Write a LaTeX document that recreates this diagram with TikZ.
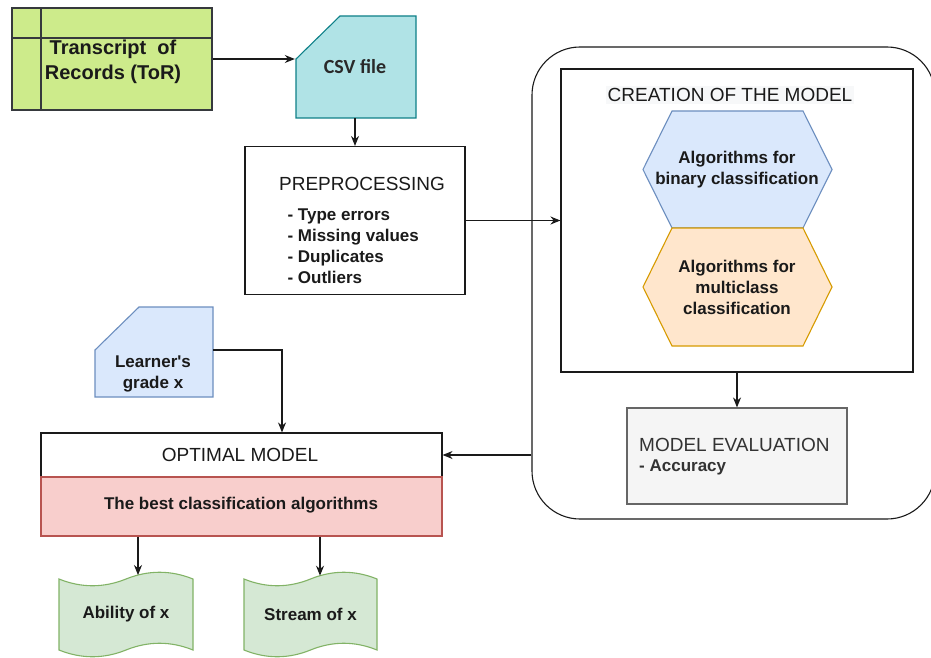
\documentclass[tikz,border=0pt]{standalone}
\usepackage{fontspec}
\setmainfont{Liberation Sans}
\newfontfamily\csvfont{Carlito}
\usetikzlibrary{arrows.meta,calc}
\definecolor{torfill}{HTML}{CDEB8B}
\definecolor{torline}{HTML}{36393D}
\definecolor{csvfill}{HTML}{B0E3E6}
\definecolor{csvline}{HTML}{0E8088}
\definecolor{bluefill}{HTML}{DAE8FC}
\definecolor{blueline}{HTML}{6C8EBF}
\definecolor{orangefill}{HTML}{FFE6CC}
\definecolor{orangeline}{HTML}{D79B00}
\definecolor{grayfill}{HTML}{F5F5F5}
\definecolor{grayline}{HTML}{666666}
\definecolor{graytext}{HTML}{333333}
\definecolor{redfill}{HTML}{F8CECC}
\definecolor{redline}{HTML}{B85450}
\definecolor{greenfill}{HTML}{D5E8D4}
\definecolor{greenline}{HTML}{82B366}
\definecolor{labelbg}{HTML}{F7F8F9}
\definecolor{txt}{HTML}{1A1A1A}
\tikzset{
  base/.style={line width=1.1pt},
  arr/.style={base, draw=txt, -{Stealth[length=10pt,width=8pt]}},
  hfont/.style={font=\fontsize{19}{23}\selectfont, text=txt},
  bfont/.style={font=\bfseries\fontsize{17}{21}\selectfont, text=txt},
  tfont/.style={font=\bfseries\fontsize{20}{25}\selectfont, text=txt},
  frame/.style={base, draw=txt, inner sep=0pt},
  ghost/.style={inner sep=0pt, draw=none}
}
\newcommand\drawtape[2]{%
  \draw[base, draw=greenline, fill=greenfill]
    (#1,579) .. controls ({#1+#2/6},588) and ({#1+#2/3},588) .. ({#1+#2/2},579)
    .. controls ({#1+2*#2/3},570) and ({#1+5*#2/6},570) .. ({#1+#2},579)
    -- ({#1+#2},650)
    .. controls ({#1+5*#2/6},641) and ({#1+2*#2/3},641) .. ({#1+#2/2},650)
    .. controls ({#1+#2/3},659) and ({#1+#2/6},659) .. (#1,650) -- cycle;}
\begin{document}
\begin{tikzpicture}[x=1pt,y=-1pt]
\useasboundingbox (0,0) rectangle (931,658);
\clip (0,0) rectangle (931,658);
\fill[white] (0,0) rectangle (931,658);

% Transcript of Records
\node[frame, draw=torline, fill=torfill, minimum width=200pt, minimum height=102pt] (tor) at (112,59) {};
\draw[base, draw=torline] (41,8) -- (41,110);
\draw[base, draw=torline] (12,38) -- (212,38);
\node[tfont, align=center] (torlabel) at (113,62) {Transcript\ \ of\\Records (ToR)};

% CSV file
\node[ghost, minimum width=120pt, minimum height=102pt] (csv) at (355,67) {};
\draw[base, draw=csvline, fill=csvfill] (296,59) -- (340,16) -- (416,16) -- (416,118) -- (296,118) -- cycle;
\node[font=\csvfont\bfseries\fontsize{20}{24}\selectfont, text=graytext!80!black] (csvlabel) at (355,67) {CSV file};

% Preprocessing
\node[frame, fill=white, minimum width=220pt, minimum height=148pt] (pre) at (355,220.5) {};
\node[hfont] (pretitle) at (362,184) {PREPROCESSING};
\node[bfont, align=left, anchor=west] (preitems) at (284,246) {- Type errors\\- Missing values\\- Duplicates\\- Outliers};

% Outer rounded container
\node[frame, rounded corners=48pt, minimum width=403pt, minimum height=472pt] (outer) at (733.5,283) {};
% Creation of the model
\node[frame, fill=white, minimum width=352pt, minimum height=303pt] (inner) at (737,220.5) {};
\node[hfont, fill=labelbg, inner sep=2pt] (creation) at (730,95) {CREATION OF THE MODEL};

\draw[base, draw=blueline, fill=bluefill] (643,169.5) -- (672,111) -- (803,111) -- (832,169.5) -- (803,228) -- (672,228) -- cycle;
\node[bfont, align=center] (binary) at (737,169.5) {Algorithms for\\binary classification};
\draw[base, draw=orangeline, fill=orangefill] (643,287) -- (672,228) -- (803,228) -- (832,287) -- (803,346) -- (672,346) -- cycle;
\node[bfont, align=center] (multi) at (737,287.5) {Algorithms for\\multiclass\\classification};

% Model evaluation
\node[frame, draw=grayline, fill=grayfill, minimum width=220pt, minimum height=96pt] (eval) at (737,456) {};
\node[hfont, text=graytext, anchor=west, inner sep=0pt] (evaltitle) at (639,445) {MODEL EVALUATION};
\node[bfont, text=graytext, anchor=west, inner sep=0pt] (evalitem) at (639,467) {- Accuracy};

% Learner's grade
\node[ghost, minimum width=118pt, minimum height=90pt] (learner) at (154,350) {};
\draw[base, draw=blueline, fill=bluefill] (95,350) -- (139,307) -- (213,307) -- (213,397) -- (95,397) -- cycle;
\node[bfont, align=center] (learnerlabel) at (153,374) {Learner\textquotesingle s\\grade x};

% Optimal model
\node[frame, fill=white, minimum width=401pt, minimum height=44pt] (opt) at (241.5,455) {};
\node[hfont] (optlabel) at (240,455) {OPTIMAL MODEL};
\node[frame, draw=redline, fill=redfill, minimum width=401pt, minimum height=59pt] (red) at (241.5,506.5) {};
\node[bfont] (redlabel) at (241,505) {The best classification algorithms};

% Outputs
\drawtape{59}{134}
\drawtape{244}{133}
\node[ghost, minimum width=134pt, minimum height=86pt] (abil) at (126,614.5) {};
\node[bfont] (abillabel) at (126,614) {Ability of x};
\node[ghost, minimum width=133pt, minimum height=86pt] (stream) at (310.5,614.5) {};
\node[bfont] (streamlabel) at (310.5,614) {Stream of x};
\coordinate (a1) at (138,575);
\coordinate (a2) at (320,575.7);

% Connectors
\draw[arr] (tor.east) -- (tor.east -| csv.west);
\draw[arr] (csv.south) -- (pre.north);
\draw[arr] (pre.east) -- (inner.west);
\draw[arr] (inner.south) -- (eval.north);
\draw[arr] (opt.east -| outer.west) -- (opt.east);
\draw[arr] (learner.east) -| ([xshift=40.5pt]opt.north);
\draw[arr] (red.south -| a1) -- (a1);
\draw[arr] (red.south -| a2) -- (a2);
\end{tikzpicture}
\end{document}
